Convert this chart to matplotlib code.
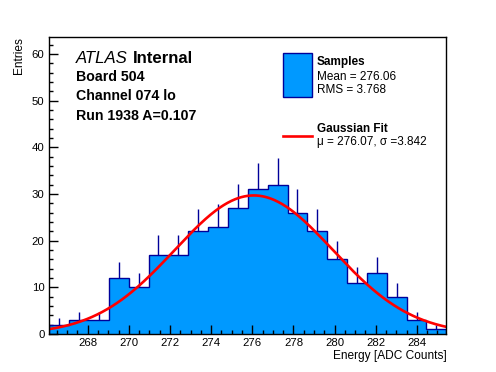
import numpy as np
import matplotlib
matplotlib.use("Agg")
import matplotlib.pyplot as plt
from matplotlib.patches import Rectangle
from matplotlib.lines import Line2D
from matplotlib.ticker import MultipleLocator

plt.rcParams['font.family'] = ['Liberation Sans', 'DejaVu Sans']

# histogram: 20 bins between x_lo and x_hi
x_lo, x_hi, n_bins = 266.13, 285.43, 20
counts = [2, 3, 3, 12, 10, 17, 17, 22, 23, 27,
          31, 32, 26, 22, 16, 11, 13, 8, 3, 1]

# gaussian fit result
fit_mu = 276.07
fit_sigma = 3.842
fit_amp = 29.7

fill_col = '#0099ff'
edge_col = '#000099'

W, H = 496, 372
fig = plt.figure(figsize=(W / 100, H / 100), dpi=100)
ax = fig.add_axes([0.0994, 0.1022, 0.8004, 0.7975])

edges = np.linspace(x_lo, x_hi, n_bins + 1)
centers = 0.5 * (edges[:-1] + edges[1:])
counts = np.array(counts, dtype=float)

ax.stairs(counts, edges, fill=True, color=fill_col, zorder=1)
ax.stairs(counts, edges, color=edge_col, lw=1, zorder=2)
# upper error bars only (lower part sits inside the bars)
ax.vlines(centers, counts, counts + np.sqrt(counts), color=edge_col, lw=1, zorder=2)

xs = np.linspace(x_lo, x_hi, 400)
ax.plot(xs, fit_amp * np.exp(-0.5 * ((xs - fit_mu) / fit_sigma) ** 2),
        color='#ff0000', lw=1.9, zorder=3)

ax.set_xlim(x_lo, x_hi)
ax.set_ylim(0, 63.6)
ax.xaxis.set_major_locator(MultipleLocator(2))
ax.xaxis.set_minor_locator(MultipleLocator(0.5))
ax.yaxis.set_major_locator(MultipleLocator(10))
ax.yaxis.set_minor_locator(MultipleLocator(2))
ax.tick_params(which='both', direction='in', top=False, right=False,
               labelsize=8.2, width=1, color='black')
ax.tick_params(which='major', length=6.5)
ax.tick_params(which='minor', length=3.2)
ax.tick_params(axis='x', pad=3)
ax.tick_params(axis='y', pad=3.5)
for s in ax.spines.values():
    s.set_linewidth(1)
    s.set_zorder(5)

ax.set_xlabel('Energy [ADC Counts]', fontsize=8.6, loc='right', labelpad=1)
ax.set_ylabel('Entries', fontsize=8.6, loc='top', labelpad=5)


def fx(px):
    return px / W


def fy(py):
    return 1 - py / H


# ATLAS label block
t1 = fig.text(fx(76), fy(58.5), 'ATLAS', fontsize=12.1, style='italic', va='center')
ax.annotate('Internal', xy=(1, 0.5), xycoords=t1, xytext=(3.5, 0),
            textcoords='offset points', fontsize=12.1, fontweight='bold',
            va='center', annotation_clip=False)
fig.text(fx(76), fy(77), 'Board 504', fontsize=10.2, fontweight='bold', va='center')
fig.text(fx(76), fy(96.5), 'Channel 074 lo', fontsize=10.2, fontweight='bold', va='center')
fig.text(fx(76), fy(116), 'Run 1938 A=0.107', fontsize=10.2, fontweight='bold', va='center')

# legend drawn by hand
fig.patches.append(Rectangle((fx(283.3), fy(96.7)), fx(311.7) - fx(283.3), fy(53.3) - fy(96.7),
                             transform=fig.transFigure, facecolor=fill_col,
                             edgecolor=edge_col, lw=1))
fig.lines.append(Line2D([fx(283.3), fx(311.7)], [fy(136), fy(136)],
                        transform=fig.transFigure, color='#ff0000', lw=1.9))
fig.text(fx(317), fy(61.7), 'Samples', fontsize=8.5, fontweight='bold', va='center')
fig.text(fx(317), fy(77.3), 'Mean = 276.06', fontsize=8.5, va='center')
fig.text(fx(317), fy(90), 'RMS = 3.768', fontsize=8.5, va='center')
fig.text(fx(317), fy(129.3), 'Gaussian Fit', fontsize=8.5, fontweight='bold', va='center')
fig.text(fx(317), fy(141.7), 'μ = 276.07, σ =3.842', fontsize=8.5, va='center')

fig.savefig('out.png', dpi=100)
